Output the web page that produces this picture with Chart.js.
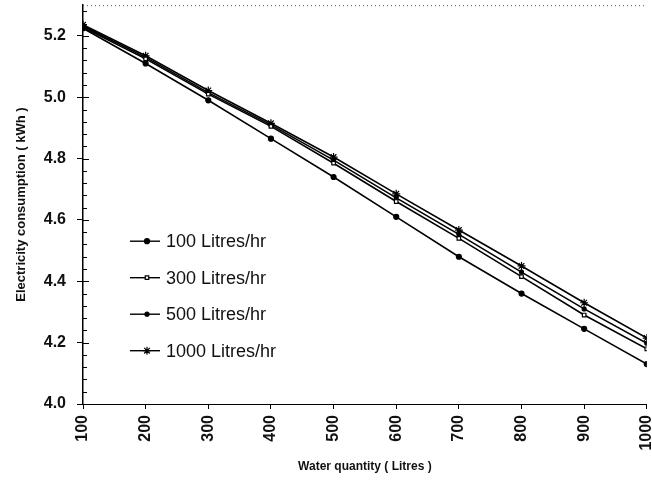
<!DOCTYPE html>
<html>
<head>
<meta charset="utf-8">
<script src="https://cdn.jsdelivr.net/npm/chart.js@4/dist/chart.umd.min.js"></script>
<style>
  html, body { margin: 0; padding: 0; background: #fff; }
  #wrap { width: 652px; height: 490px; }
</style>
</head>
<body>
<div id="wrap"><canvas id="energy-chart" width="652" height="490"></canvas></div>
<script>
// Water quantity (Litres) on x, electricity use (kWh) on y
const waterQty  = [100, 200, 300, 400, 500, 600, 700, 800, 900, 1000];
const flow100   = [5.225, 5.11, 4.99, 4.865, 4.74, 4.61, 4.48, 4.36, 4.245, 4.13];
const flow300   = [5.228, 5.125, 5.01, 4.905, 4.785, 4.66, 4.54, 4.415, 4.29, 4.18];
const flow500   = [5.232, 5.13, 5.015, 4.91, 4.795, 4.672, 4.553, 4.43, 4.31, 4.198];
const flow1000  = [5.236, 5.135, 5.022, 4.915, 4.805, 4.685, 4.567, 4.45, 4.33, 4.215];
const seriesLabels = ['100 Litres/hr', '300 Litres/hr', '500 Litres/hr', '1000 Litres/hr'];
const yTickLabels = [4.0, 4.2, 4.4, 4.6, 4.8, 5.0, 5.2];

const FONT = '"Liberation Sans", Arial, sans-serif';

function toPoints(values) {
    return values.map(function (v, i) { return { x: waterQty[i], y: v }; });
}

const markerStyles = [
    { pointStyle: 'circle',   pointRadius: 2.5, pointBackgroundColor: '#000' },
    { pointStyle: 'rect',     pointRadius: 2.5, pointBackgroundColor: '#fff' },
    { pointStyle: 'circle',   pointRadius: 2,   pointBackgroundColor: '#000' },
    { pointStyle: 'star',     pointRadius: 4,   pointBackgroundColor: '#000' }
];

const datasets = [flow100, flow300, flow500, flow1000].map(function (vals, i) {
    return Object.assign({
        label: seriesLabels[i],
        data: toPoints(vals),
        borderColor: '#000',
        borderWidth: 1.6,
        pointBorderColor: '#000',
        pointBorderWidth: 1.2,
        tension: 0
    }, markerStyles[i]);
});

// minor ticks on the inside of the axes, dotted frame on top, in-plot legend
const framePlugin = {
    id: 'frame',
    afterDraw: function (chart) {
        const ctx = chart.ctx;
        const area = chart.chartArea;
        const y = chart.scales.y;
        ctx.save();
        ctx.strokeStyle = '#000';
        ctx.lineWidth = 1;

        for (let k = 0; k <= 32; k++) {
            const v = 4.0 + k * 0.04;
            const py = Math.round(y.getPixelForValue(v)) + 0.5;
            const len = (k % 5 === 0) ? 6 : 4;
            ctx.beginPath();
            ctx.moveTo(area.left, py);
            ctx.lineTo(area.left + len, py);
            ctx.stroke();
        }

        ctx.setLineDash([1, 3]);
        ctx.strokeStyle = '#555';
        ctx.beginPath();
        ctx.moveTo(area.left, area.top + 0.5);
        ctx.lineTo(area.right, area.top + 0.5);
        ctx.stroke();
        ctx.setLineDash([]);

        // legend
        const lx = area.left + 47;
        const ly = area.top + 236;
        ctx.font = '18px ' + FONT;
        ctx.textBaseline = 'middle';
        chart.data.datasets.forEach(function (ds, i) {
            const rowY = ly + i * 36.5;
            ctx.strokeStyle = '#000';
            ctx.lineWidth = 1.4;
            ctx.beginPath();
            ctx.moveTo(lx, rowY);
            ctx.lineTo(lx + 30, rowY);
            ctx.stroke();
            ctx.fillStyle = ds.pointBackgroundColor;
            ctx.lineWidth = 1.2;
            Chart.helpers.drawPoint(ctx, {
                pointStyle: ds.pointStyle,
                radius: ds.pointRadius,
                rotation: 0,
                borderWidth: 1.2
            }, lx + 17, rowY);
            ctx.fillStyle = '#111';
            ctx.fillText(ds.label, lx + 36, rowY + 1);
        });
        ctx.restore();
    }
};

new Chart(document.getElementById('energy-chart'), {
    type: 'line',
    data: { datasets: datasets },
    options: {
        responsive: false,
        animation: false,
        layout: { padding: { top: 4, right: 4, left: 8, bottom: 0 } },
        plugins: {
            legend: { display: false },
            tooltip: { enabled: false }
        },
        scales: {
            x: {
                type: 'linear',
                min: 100,
                max: 1000,
                afterBuildTicks: function (scale) {
                    scale.ticks = waterQty.map(function (v) { return { value: v }; });
                },
                afterFit: function (scale) {
                    scale.height = 86;
                    scale.paddingLeft = 0;
                    scale.paddingRight = 0;
                },
                border: { color: '#000', width: 1 },
                grid: { drawOnChartArea: false, drawTicks: true, tickLength: 5, color: '#000' },
                ticks: {
                    color: '#111',
                    font: { family: FONT, size: 16, weight: 'bold' },
                    minRotation: 90,
                    maxRotation: 90,
                    padding: 6,
                    callback: function (v) { return String(v); }
                },
                title: {
                    display: true,
                    text: 'Water quantity ( Litres )',
                    color: '#111',
                    font: { family: FONT, size: 12, weight: 'bold' },
                    padding: { top: 4, bottom: 16 }
                }
            },
            y: {
                min: 4.0,
                max: 5.3,
                afterBuildTicks: function (scale) {
                    scale.ticks = yTickLabels.map(function (v) { return { value: v }; });
                },
                afterFit: function (scale) {
                    scale.width = 75;
                    scale.paddingTop = 0;
                    scale.paddingBottom = 0;
                },
                border: { color: '#000', width: 1.5 },
                grid: { drawOnChartArea: false, drawTicks: true, tickLength: 6, color: '#000' },
                ticks: {
                    color: '#111',
                    font: { family: FONT, size: 16, weight: 'bold' },
                    padding: 11,
                    callback: function (v) { return Number(v).toFixed(1); }
                },
                title: {
                    display: true,
                    text: 'Electricity consumption ( kWh )',
                    color: '#111',
                    font: { family: FONT, size: 13, weight: 'bold' },
                    padding: { top: 6, bottom: 0 }
                }
            }
        }
    },
    plugins: [framePlugin]
});
</script>
</body>
</html>
